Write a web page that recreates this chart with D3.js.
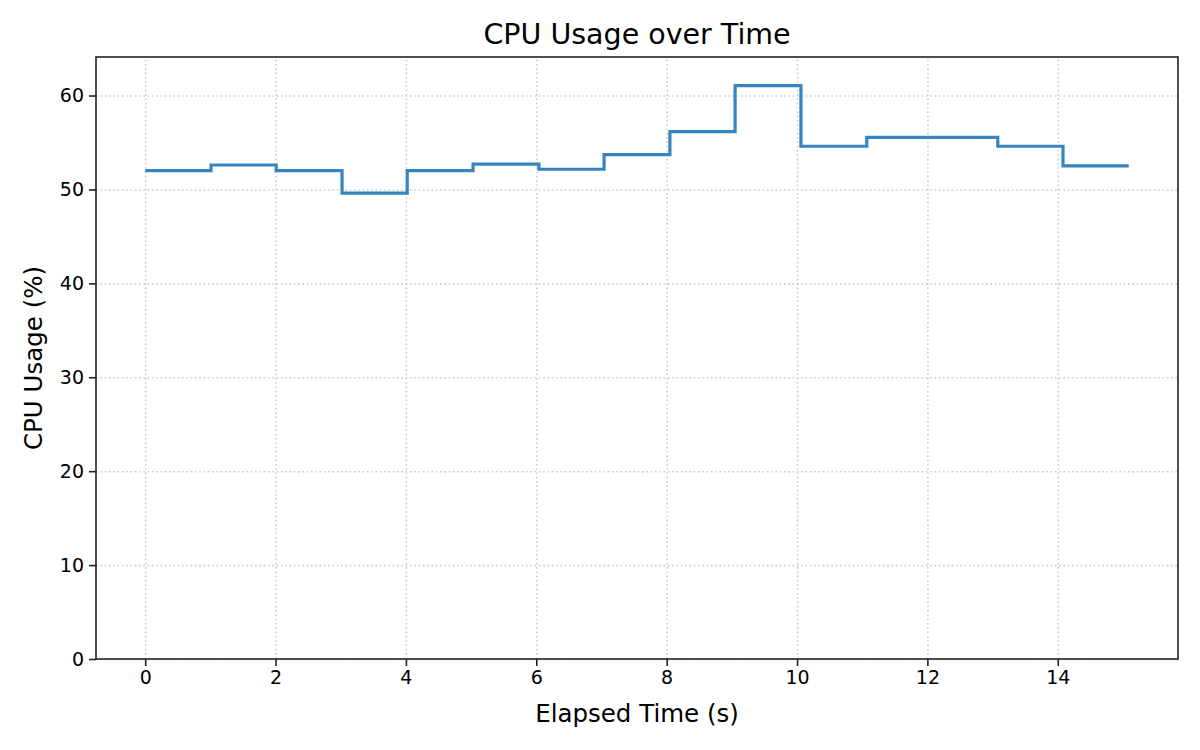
<!DOCTYPE html>
<html>
<head>
<meta charset="utf-8">
<script src="https://d3js.org/d3.v7.min.js"></script>
<style>
  body { margin: 0; background: #ffffff; }
  text { font-family: "DejaVu Sans", sans-serif; fill: #000000; }
  .tick text { font-size: 19px; }
  .grid line { stroke: #cccccc; stroke-width: 1.6px; stroke-dasharray: 1.6,2.7; }
  .grid path { stroke-width: 0; }
</style>
</head>
<body>
<div id="chart"></div>
<script>
// elapsed time (s) and CPU usage (%) samples
const elapsed = [0, 1.01, 2.01, 3.02, 4.02, 5.03, 6.04, 7.04, 8.05, 9.05, 10.06, 11.07, 12.07, 13.08, 14.08, 15.09];
const cpuUsage = [52.0, 52.6, 52.0, 49.6, 52.0, 52.7, 52.15, 53.7, 56.15, 61.05, 54.6, 55.55, 55.55, 54.6, 52.5, 52.5];
const xTicks = [0, 2, 4, 6, 8, 10, 12, 14];
const yTicks = [0, 10, 20, 30, 40, 50, 60];

const W = 1200, H = 750;
const margin = {top: 57, right: 22, bottom: 91, left: 96};
const width = W - margin.left - margin.right;
const height = H - margin.top - margin.bottom;

const svg = d3.select("#chart").append("svg")
  .attr("width", W)
  .attr("height", H);

const g = svg.append("g")
  .attr("transform", `translate(${margin.left},${margin.top})`);

// matplotlib-like 5% x margins, y from 0 to max*1.05
const xMin = d3.min(elapsed), xMax = d3.max(elapsed);
const pad = (xMax - xMin) * 0.05;
const x = d3.scaleLinear().domain([xMin - pad, xMax + pad]).range([0, width]);
const y = d3.scaleLinear().domain([0, d3.max(cpuUsage) * 1.05]).range([height, 0]);

// grid
g.append("g")
  .attr("class", "grid")
  .attr("transform", `translate(0,${height})`)
  .call(d3.axisBottom(x).tickValues(xTicks).tickSize(-height).tickFormat(""));
g.append("g")
  .attr("class", "grid")
  .call(d3.axisLeft(y).tickValues(yTicks).tickSize(-width).tickFormat(""));

// step line
const data = elapsed.map((t, i) => ({t: t, v: cpuUsage[i]}));
g.append("path")
  .datum(data)
  .attr("fill", "none")
  .attr("stroke", "#3685c0")
  .attr("stroke-width", 3.2)
  .attr("stroke-linejoin", "miter")
  .attr("d", d3.line().curve(d3.curveStepAfter).x(d => x(d.t)).y(d => y(d.v)));

// axes
const xAxis = g.append("g")
  .attr("transform", `translate(0,${height})`)
  .call(d3.axisBottom(x).tickValues(xTicks).tickSize(7).tickPadding(5).tickFormat(d3.format("d")));
const yAxis = g.append("g")
  .call(d3.axisLeft(y).tickValues(yTicks).tickSize(7).tickPadding(5).tickFormat(d3.format("d")));
[xAxis, yAxis].forEach(a => {
  a.select(".domain").remove();
  a.selectAll(".tick line").attr("stroke", "#222").attr("stroke-width", 1.6);
});

// frame
g.append("rect")
  .attr("width", width)
  .attr("height", height)
  .attr("fill", "none")
  .attr("stroke", "#222")
  .attr("stroke-width", 1.6);

// titles
svg.append("text")
  .attr("x", margin.left + width / 2)
  .attr("y", 44)
  .attr("text-anchor", "middle")
  .style("font-size", "28.5px")
  .text("CPU Usage over Time");

svg.append("text")
  .attr("x", margin.left + width / 2)
  .attr("y", 722)
  .attr("text-anchor", "middle")
  .style("font-size", "24.5px")
  .text("Elapsed Time (s)");

svg.append("text")
  .attr("transform", `translate(42,${margin.top + height / 2}) rotate(-90)`)
  .attr("text-anchor", "middle")
  .style("font-size", "24.5px")
  .text("CPU Usage (%)");
</script>
</body>
</html>
